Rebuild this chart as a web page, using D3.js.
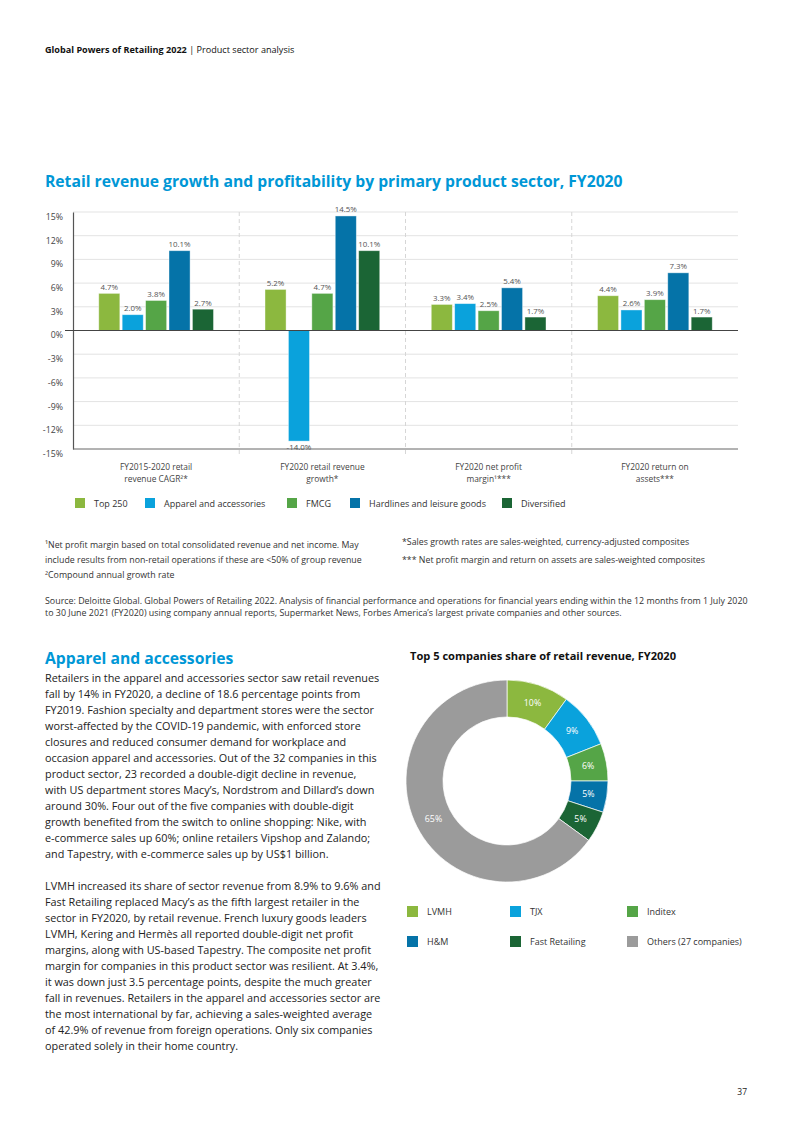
<!DOCTYPE html>
<html>
<head>
<meta charset="utf-8">
<script src="https://cdn.jsdelivr.net/npm/d3@7"></script>
<style>
  body { margin: 0; background: #fff; }
  svg { display: block; font-family: "Open Sans", sans-serif; }
</style>
</head>
<body>
<div id="page"></div>
<script>
// bar chart data
var groups = ["g1", "g2", "g3", "g4"];
var groupLabels = [
  ["FY2015-2020 retail", "revenue CAGR\u00b2*"],
  ["FY2020 retail revenue", "growth*"],
  ["FY2020 net profit", "margin\u00b9***"],
  ["FY2020 return on", "assets***"]
];
var sectors = ["Top 250", "Apparel and accessories", "FMCG", "Hardlines and leisure goods", "Diversified"];
var top250 = [4.7, 5.2, 3.3, 4.4];
var apparel = [2.0, -14.0, 3.4, 2.6];
var fmcg = [3.8, 4.7, 2.5, 3.9];
var hardlines = [10.1, 14.5, 5.4, 7.3];
var diversified = [2.7, 10.1, 1.7, 1.7];
var yTicks = [15, 12, 9, 6, 3, 0, -3, -6, -9, -12, -15];

// donut data
var companies = ["LVMH", "TJX", "Inditex", "H&M", "Fast Retailing", "Others (27 companies)"];
var shares = [10, 9, 6, 5, 5, 65];

var colors = {
  'Top 250': '#8cb83f',
  'Apparel and accessories': '#0aa2dc',
  'FMCG': '#55a547',
  'Hardlines and leisure goods': '#0573a8',
  'Diversified': '#1b6535'
};
var donutColors = ['#8cb83f', '#0aa2dc', '#55a547', '#0573a8', '#1b6535', '#9b9b9b'];

var footLeft = [
  "\u00b9Net profit margin based on total consolidated revenue and net income. May",
  "include results from non-retail operations if these are <50% of group revenue",
  "\u00b2Compound annual growth rate"
];
var footRight = [
  "*Sales growth rates are sales-weighted, currency-adjusted composites",
  "*** Net profit margin and return on assets are sales-weighted composites"
];
var source = [
  "Source: Deloitte Global. Global Powers of Retailing 2022. Analysis of financial performance and operations for financial years ending within the 12 months from 1 July 2020",
  "to 30 June 2021 (FY2020) using company annual reports, Supermarket News, Forbes America\u2019s largest private companies and other sources."
];
var para1 = [
  "Retailers in the apparel and accessories sector saw retail revenues",
  "fall by 14% in FY2020, a decline of 18.6 percentage points from",
  "FY2019. Fashion specialty and department stores were the sector",
  "worst-affected by the COVID-19 pandemic, with enforced store",
  "closures and reduced consumer demand for workplace and",
  "occasion apparel and accessories. Out of the 32 companies in this",
  "product sector, 23 recorded a double-digit decline in revenue,",
  "with US department stores Macy\u2019s, Nordstrom and Dillard\u2019s down",
  "around 30%. Four out of the five companies with double-digit",
  "growth benefited from the switch to online shopping: Nike, with",
  "e-commerce sales up 60%; online retailers Vipshop and Zalando;",
  "and Tapestry, with e-commerce sales up by US$1 billion."
];
var para2 = [
  "LVMH increased its share of sector revenue from 8.9% to 9.6% and",
  "Fast Retailing replaced Macy\u2019s as the fifth largest retailer in the",
  "sector in FY2020, by retail revenue. French luxury goods leaders",
  "LVMH, Kering and Herm\u00e8s all reported double-digit net profit",
  "margins, along with US-based Tapestry. The composite net profit",
  "margin for companies in this product sector was resilient. At 3.4%,",
  "it was down just 3.5 percentage points, despite the much greater",
  "fall in revenues. Retailers in the apparel and accessories sector are",
  "the most international by far, achieving a sales-weighted average",
  "of 42.9% of revenue from foreign operations. Only six companies",
  "operated solely in their home country."
];

var svg = d3.select("#page").append("svg")
  .attr("width", 793)
  .attr("height", 1122);

// header
var header = svg.append("text").attr("x", 45).attr("y", 53)
  .style("font-size", "9.1px").style("fill", "#111");
header.append("tspan").style("font-weight", "bold").text("Global Powers of Retailing 2022");
header.append("tspan").text(" | Product sector analysis");

// chart title
svg.append("text")
  .attr("x", 45).attr("y", 187)
  .style("font-size", "15.7px").style("font-weight", "bold").style("fill", "#0097d6")
  .text("Retail revenue growth and profitability by primary product sector, FY2020");

// ---- bar chart ----
var plot = { left: 73, right: 738, top: 212, bottom: 449 };

var x = d3.scaleBand().domain(groups).range([plot.left, plot.right]);
var xs = d3.scaleBand().domain(sectors).range([0, x.bandwidth()])
  .paddingInner(0.1).paddingOuter(1.1);
var y = d3.scaleLinear().domain([-15, 15]).range([plot.bottom, plot.top]);

var chart = svg.append("g");

// gridlines
chart.selectAll(".grid")
  .data(yTicks.filter(function(d) { return d != 0 && d != -15; }))
  .enter().append("line")
  .attr("x1", plot.left).attr("x2", plot.right)
  .attr("y1", function(d) { return y(d); })
  .attr("y2", function(d) { return y(d); })
  .style("stroke", "#e3e3e3").style("stroke-width", 1);

// dashed separators
chart.selectAll(".sep")
  .data(groups.slice(1))
  .enter().append("line")
  .attr("x1", function(d) { return x(d); })
  .attr("x2", function(d) { return x(d); })
  .attr("y1", plot.top).attr("y2", plot.bottom + 6)
  .style("stroke", "#d6d6d6").style("stroke-dasharray", "4,3");

// y axis
var yAxis = chart.append("g")
  .attr("transform", "translate(" + plot.left + ",0)")
  .call(d3.axisLeft(y).tickValues(yTicks).tickSize(0).tickPadding(10)
    .tickFormat(function(d) { return d + "%"; }));
yAxis.select(".domain").style("stroke", "#555").style("stroke-width", 1.2);
yAxis.selectAll("text")
  .attr("dy", "0.85em")
  .style("font-family", "Open Sans").style("font-size", "8.8px").style("fill", "#444");

// bottom line
chart.append("line")
  .attr("x1", plot.left).attr("x2", plot.right)
  .attr("y1", plot.bottom).attr("y2", plot.bottom)
  .style("stroke", "#666").style("stroke-width", 1);

// bars
var barData = [];
var seriesVals = [top250, apparel, fmcg, hardlines, diversified];
groups.forEach(function(g, gi) {
  sectors.forEach(function(s, si) {
    barData.push({ group: g, sector: s, value: seriesVals[si][gi] });
  });
});

chart.selectAll(".bar")
  .data(barData)
  .enter().append("rect")
  .attr("x", function(d) { return x(d.group) + xs(d.sector); })
  .attr("width", xs.bandwidth())
  .attr("y", function(d) { return y(Math.max(0, d.value)); })
  .attr("height", function(d) { return Math.abs(y(d.value) - y(0)); })
  .style("fill", function(d) { return colors[d.sector]; })
  .style("stroke", "#ffffff").style("stroke-opacity", 0.5).style("stroke-width", 0.8);

chart.selectAll(".val")
  .data(barData)
  .enter().append("text")
  .attr("x", function(d) { return x(d.group) + xs(d.sector) + xs.bandwidth() / 2; })
  .attr("y", function(d) { return d.value >= 0 ? y(d.value) - 3.5 : y(d.value) + 8.5; })
  .attr("text-anchor", "middle")
  .style("font-size", "7.9px").style("fill", "#555")
  .text(function(d) { return d.value.toFixed(1) + "%"; });

// zero line
chart.append("line")
  .attr("x1", plot.left - 8).attr("x2", plot.right)
  .attr("y1", y(0)).attr("y2", y(0))
  .style("stroke", "#444").style("stroke-width", 1.2);

// category labels
groups.forEach(function(g, gi) {
  var t = chart.append("text")
    .attr("text-anchor", "middle")
    .attr("x", x(g) + x.bandwidth() / 2)
    .attr("y", 470)
    .style("font-size", "8.4px").style("fill", "#444");
  groupLabels[gi].forEach(function(line, li) {
    t.append("tspan").attr("x", x(g) + x.bandwidth() / 2).attr("dy", li == 0 ? 0 : 12).text(line);
  });
});

// legend
var legendX = [75, 145, 287, 350, 502];
var legend = chart.selectAll(".leg")
  .data(sectors)
  .enter().append("g")
  .attr("transform", function(d, i) { return "translate(" + legendX[i] + ",498)"; });
legend.append("rect").attr("width", 10).attr("height", 10)
  .style("fill", function(d) { return colors[d]; });
legend.append("text").attr("x", 19).attr("y", 8.5)
  .style("font-size", "9px").style("fill", "#333")
  .text(function(d) { return d; });

// footnotes
svg.selectAll(".fl").data(footLeft).enter().append("text")
  .attr("x", 45).attr("y", function(d, i) { return 548 + i * 15; })
  .style("font-size", "8.8px").style("fill", "#333")
  .text(function(d) { return d; });
svg.selectAll(".fr").data(footRight).enter().append("text")
  .attr("x", 402).attr("y", function(d, i) { return 545 + i * 18; })
  .style("font-size", "8.8px").style("fill", "#333")
  .text(function(d) { return d; });
svg.selectAll(".src").data(source).enter().append("text")
  .attr("x", 45).attr("y", function(d, i) { return 604 + i * 12; })
  .style("font-size", "8.9px").style("fill", "#333")
  .text(function(d) { return d; });

// ---- text column ----
svg.append("text")
  .attr("x", 45).attr("y", 664)
  .style("font-size", "15.7px").style("font-weight", "bold").style("fill", "#0097d6")
  .text("Apparel and accessories");

svg.selectAll(".p1").data(para1).enter().append("text")
  .attr("x", 45).attr("y", function(d, i) { return 682 + i * 16; })
  .style("font-size", "10.85px").style("fill", "#222")
  .text(function(d) { return d; });
svg.selectAll(".p2").data(para2).enter().append("text")
  .attr("x", 45).attr("y", function(d, i) { return 890 + i * 16; })
  .style("font-size", "10.85px").style("fill", "#222")
  .text(function(d) { return d; });

// ---- donut ----
svg.append("text")
  .attr("x", 410).attr("y", 660)
  .style("font-size", "11.1px").style("font-weight", "bold").style("fill", "#111")
  .text("Top 5 companies share of retail revenue, FY2020");

var pie = d3.pie().sort(null).value(function(d) { return d; });
var arc = d3.arc().innerRadius(64).outerRadius(101);
var donut = svg.append("g").attr("transform", "translate(507,781)");
var arcs = pie(shares);
donut.selectAll("path").data(arcs).enter().append("path")
  .attr("d", arc)
  .style("fill", function(d, i) { return donutColors[i]; })
  .style("stroke", "#fff").style("stroke-width", 0.7);
donut.selectAll(".lbl").data(arcs).enter().append("text")
  .attr("transform", function(d) { return "translate(" + arc.centroid(d) + ")"; })
  .attr("text-anchor", "middle").attr("dy", "0.35em")
  .style("font-size", "8.8px").style("fill", "#fff")
  .text(function(d) { return d.data + "%"; });

var dlegX = [407, 510, 627];
var dleg = svg.selectAll(".dleg").data(companies).enter().append("g")
  .attr("transform", function(d, i) {
    return "translate(" + dlegX[i % 3] + "," + (906 + Math.floor(i / 3) * 30) + ")";
  });
dleg.append("rect").attr("width", 11).attr("height", 11)
  .style("fill", function(d, i) { return donutColors[i]; });
dleg.append("text").attr("x", 20).attr("y", 8.8)
  .style("font-size", "9px").style("fill", "#333")
  .text(function(d) { return d; });

// page number
svg.append("text").attr("x", 747).attr("y", 1095).attr("text-anchor", "end")
  .style("font-size", "8.5px").style("fill", "#222").text("37");
</script>
</body>
</html>
